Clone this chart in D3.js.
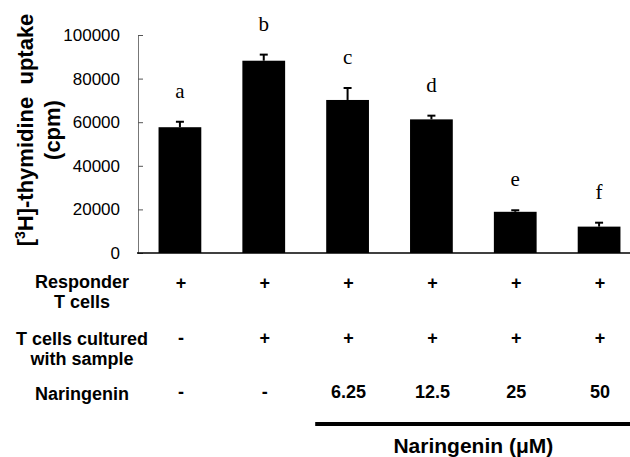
<!DOCTYPE html>
<html>
<head>
<meta charset="utf-8">
<script src="https://cdn.jsdelivr.net/npm/d3@7"></script>
<style>
  body { margin: 0; background: #fff; }
  svg { display: block; }
</style>
</head>
<body>
<div id="chart"></div>
<script>
// groups along the x axis, with their significance letters
var groups = ['a', 'b', 'c', 'd', 'e', 'f'];
// [3H]-thymidine uptake (cpm)
var uptake = [57700, 88200, 70200, 61300, 18900, 12100];
var uptakeErr = [2500, 2800, 5500, 1700, 700, 1800];
var yTicks = [0, 20000, 40000, 60000, 80000, 100000];

// the table under the bars
var rowLabels = [['Responder', 'T cells'], ['T cells cultured', 'with sample'], ['Naringenin']];
var responderRow = ['+', '+', '+', '+', '+', '+'];
var culturedRow = ['-', '+', '+', '+', '+', '+'];
var naringeninRow = ['-', '-', '6.25', '12.5', '25', '50'];

var width = 630, height = 457;

var svg = d3.select('#chart').append('svg')
	.attr('width', width)
	.attr('height', height);

var x = d3.scaleBand()
	.domain(groups)
	.range([138, 641])
	.paddingInner(0.49)
	.paddingOuter(0.245);

var y = d3.scaleLinear()
	.domain([0, 100000])
	.range([253, 35]);

// y axis, ticks pointing inward
var yAxis = svg.append('g')
	.attr('transform', 'translate(138,0)')
	.call(d3.axisLeft(y).tickValues(yTicks).tickSizeInner(-5).tickSizeOuter(0).tickPadding(18).tickFormat(d3.format('d')));
yAxis.select('.domain').attr('stroke', '#777').attr('stroke-width', 1);
yAxis.selectAll('.tick line').attr('stroke', '#555').attr('stroke-width', 1);
yAxis.selectAll('.tick text')
	.attr('font-family', 'Arial, "Liberation Sans", sans-serif')
	.attr('font-size', '17px')
	.attr('fill', '#000');

// bars
svg.selectAll('.bar')
	.data(groups)
	.enter()
	.append('rect')
	.attr('class', 'bar')
	.attr('x', function(d){ return x(d); })
	.attr('width', x.bandwidth())
	.attr('y', function(d, i){ return y(uptake[i]); })
	.attr('height', function(d, i){ return y(0) - y(uptake[i]); })
	.attr('fill', '#000');

// baseline
svg.append('line')
	.attr('x1', 137).attr('x2', width)
	.attr('y1', y(0)).attr('y2', y(0))
	.attr('stroke', '#000')
	.attr('stroke-width', 1.5);

// error bars (upper half only)
var err = svg.selectAll('.err')
	.data(groups)
	.enter()
	.append('g')
	.attr('class', 'err');
err.append('line')
	.attr('x1', function(d){ return x(d) + x.bandwidth()/2; })
	.attr('x2', function(d){ return x(d) + x.bandwidth()/2; })
	.attr('y1', function(d, i){ return y(uptake[i]); })
	.attr('y2', function(d, i){ return y(uptake[i] + uptakeErr[i]); })
	.attr('stroke', '#000')
	.attr('stroke-width', 2);
err.append('line')
	.attr('x1', function(d){ return x(d) + x.bandwidth()/2 - 4; })
	.attr('x2', function(d){ return x(d) + x.bandwidth()/2 + 4; })
	.attr('y1', function(d, i){ return y(uptake[i] + uptakeErr[i]); })
	.attr('y2', function(d, i){ return y(uptake[i] + uptakeErr[i]); })
	.attr('stroke', '#000')
	.attr('stroke-width', 2);

// significance letters
svg.selectAll('.letter')
	.data(groups)
	.enter()
	.append('text')
	.attr('class', 'letter')
	.attr('x', function(d){ return x(d) + x.bandwidth()/2; })
	.attr('y', function(d, i){ return y(uptake[i] + uptakeErr[i]) - 24; })
	.attr('text-anchor', 'middle')
	.attr('font-family', '"Times New Roman", "Liberation Serif", serif')
	.attr('font-size', '21px')
	.text(function(d){ return d; });

// y title
var yTitle = svg.append('text')
	.attr('transform', 'translate(33,130) rotate(-90)')
	.attr('text-anchor', 'middle')
	.attr('font-family', 'Arial, "Liberation Sans", sans-serif')
	.attr('font-weight', 'bold')
	.attr('font-size', '22px');
yTitle.append('tspan').text('[');
yTitle.append('tspan').attr('baseline-shift', 'super').attr('font-size', '14px').text('3');
yTitle.append('tspan').text('H]-thymidine\u00a0\u00a0uptake');
svg.append('text')
	.attr('transform', 'translate(60,130) rotate(-90)')
	.attr('text-anchor', 'middle')
	.attr('font-family', 'Arial, "Liberation Sans", sans-serif')
	.attr('font-weight', 'bold')
	.attr('font-size', '22px')
	.text('(cpm)');

// table rows
var tableFont = 'Arial, "Liberation Sans", sans-serif';
var rowBase = [288, 345, 400];
var rowMarkBase = [289, 344, 398];
var rows = [responderRow, culturedRow, naringeninRow];

rowLabels.forEach(function(lines, r){
	lines.forEach(function(line, k){
		svg.append('text')
			.attr('x', 82)
			.attr('y', rowBase[r] + k*20)
			.attr('text-anchor', 'middle')
			.attr('font-family', tableFont)
			.attr('font-weight', 'bold')
			.attr('font-size', '18px')
			.text(line);
	});
});

rows.forEach(function(row, r){
	svg.selectAll('.row' + r)
		.data(row)
		.enter()
		.append('text')
		.attr('class', 'row' + r)
		.attr('x', function(d, i){ return x(groups[i]) + x.bandwidth()/2 + 1; })
		.attr('y', rowMarkBase[r])
		.attr('text-anchor', 'middle')
		.attr('font-family', tableFont)
		.attr('font-weight', 'bold')
		.attr('font-size', '18px')
		.text(function(d){ return d; });
});

// bracket line for the naringenin doses
var x0 = x(groups[2]) - 11;
svg.append('line')
	.attr('x1', x0).attr('x2', width)
	.attr('y1', 424).attr('y2', 424)
	.attr('stroke', '#000')
	.attr('stroke-width', 4);
svg.append('text')
	.attr('x', (x(groups[2]) + x(groups[5]) + x.bandwidth())/2)
	.attr('y', 453)
	.attr('text-anchor', 'middle')
	.attr('font-family', tableFont)
	.attr('font-weight', 'bold')
	.attr('font-size', '21px')
	.text('Naringenin (\u03bcM)');
</script>
</body>
</html>
